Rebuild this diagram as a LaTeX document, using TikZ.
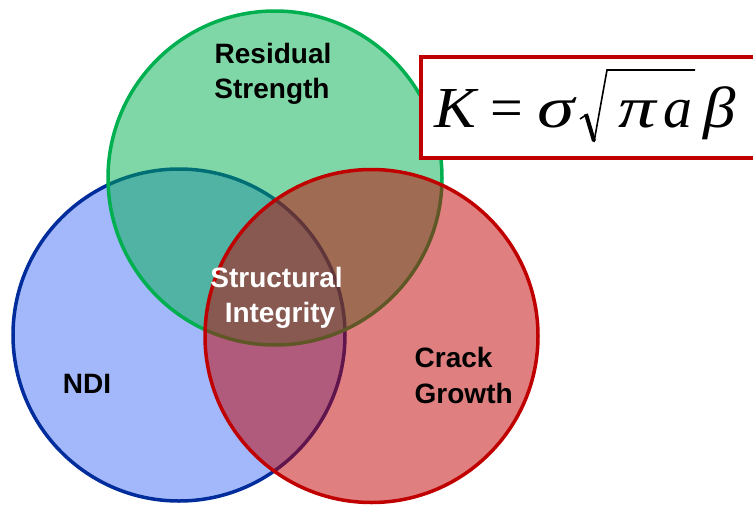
\documentclass[tikz,border=0pt]{standalone}
\usepackage{graphicx}
\usepackage{fontspec}
\setmainfont{Liberation Sans}
\newfontfamily\tnr{Liberation Serif}
\definecolor{gstroke}{HTML}{00B050}
\definecolor{bstroke}{HTML}{002C9C}
\definecolor{rstroke}{HTML}{C00000}
\definecolor{bfill}{HTML}{A3B8FA}
\begin{document}
\begin{tikzpicture}[x=1pt,y=-1pt,
  ring/.style={line width=3.5pt},
  lbl/.style={inner sep=0pt,anchor=base,font=\fontsize{28}{30}\bfseries\selectfont},
  lblw/.style={lbl,text=white},
  glyph/.style={inner sep=0pt,anchor=base west,font=\fontsize{58}{60}\tnr\itshape\selectfont},
  formbox/.style={draw=rstroke,line width=3.5pt,fill=white}]
\useasboundingbox (0,0) rectangle (753,504);
\clip (0,0) rectangle (753,504);
% circles
\coordinate (cb) at (179,335);
\coordinate (cg) at (275,178);
\coordinate (cr) at (371.5,336);
\fill[bfill] (cb) circle[radius=166pt];
\draw[ring,bstroke] (cb) circle[radius=166pt];
\fill[gstroke,fill opacity=0.5] (cg) circle[radius=167pt];
\draw[ring,gstroke] (cg) circle[radius=167pt];
\fill[rstroke,fill opacity=0.5] (cr) circle[radius=166.5pt];
\draw[ring,rstroke] (cr) circle[radius=166.5pt];
% labels
\node[lbl] (res) at (273,63) {Residual};
\node[lbl] (str) at (272,98) {Strength};
\node[lblw] (stru) at (276.5,287) {Structural};
\node[lblw] (integ) at (280,322) {Integrity};
\node[lbl] (ndi) at (87,393) {NDI};
\node[lbl,anchor=base west] (crack) at (414.5,367) {Crack};
\node[lbl,anchor=base west] (growth) at (414.5,403) {Growth};
% formula box
\draw[formbox] (421,57) rectangle (775,158);
\node[glyph] (fK) at (434,127) {\scalebox{1.08}[1]{K}};
\node[glyph,font=\fontsize{58}{60}\tnr\selectfont] (feq) at (490,127) {=};
\node[glyph] (fsig) at (537,127) {\scalebox{1.3}[1]{σ}};
\node[glyph] (fpi) at (618,127) {\scalebox{1.3}[1]{π}};
\node[glyph] (fa) at (663,127) {a};
\node[glyph] (fbeta) at (703,127) {\scalebox{1.12}[1]{β}};
% radical sign
\draw[line width=1.6pt,line join=miter] (580,119) -- (586,115);
\draw[line width=4pt] (586,114) -- (594,141);
\draw[line width=1.6pt,line join=miter] (594,142) -- (607,70) -- (695,70);
\end{tikzpicture}
\end{document}
